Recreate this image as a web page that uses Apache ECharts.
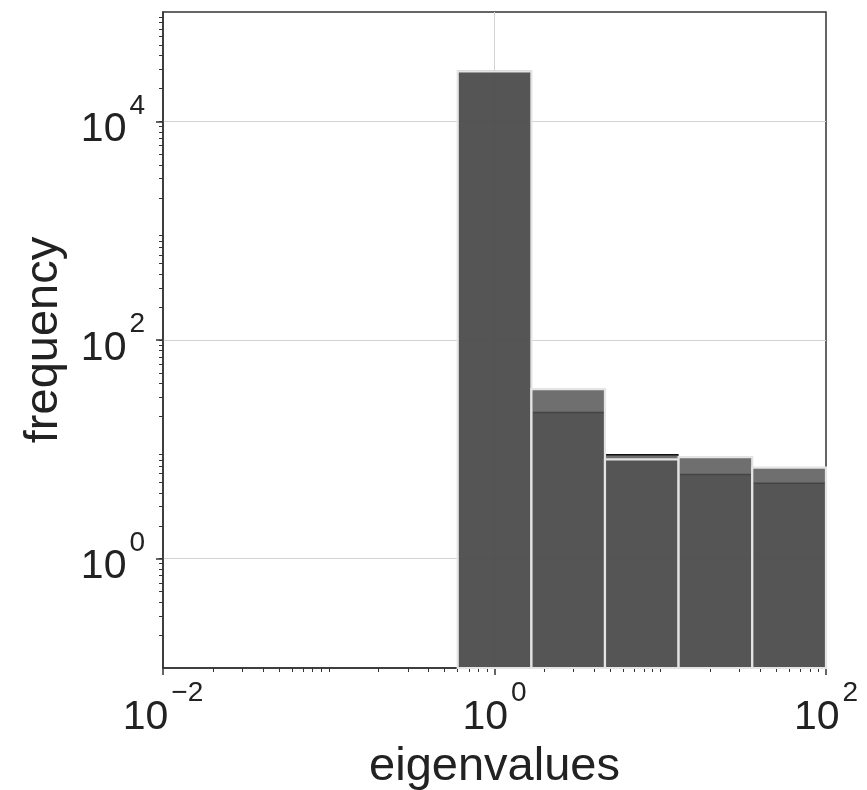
<!DOCTYPE html>
<html>
<head>
<meta charset="utf-8">
<script src="https://cdn.jsdelivr.net/npm/echarts@6/dist/echarts.min.js"></script>
<style>
  html, body { margin: 0; padding: 0; background: #fff; }
  #chart { width: 867px; height: 790px; }
</style>
</head>
<body>
<div id="chart"></div>
<script>
// histogram bin edges (log spaced eigenvalues)
const binEdges = [0.6, 1.67, 4.64, 12.9, 35.9, 100];
// two overlaid histograms
const countsA = [28600, 35.5, 8.1, 8.5, 6.8];
const countsB = [28600, 21.7, 8.9, 5.9, 4.9];

const xRange = [0.01, 100];
const yRange = [0.1, 100000];
const xMajorTicks = [0.01, 1, 100];
const yMajorTicks = [1, 100, 10000];
const gridValuesY = [1, 100, 10000];
const gridValuesX = [1];

const FONT = 'Liberation Sans, Arial, sans-serif';
const TXT = '#222';

function minorTicks(range) {
  let out = [];
  let lo = Math.round(Math.log10(range[0])), hi = Math.round(Math.log10(range[1]));
  for (let e = lo; e < hi; e++) {
    for (let m = 1; m <= 9; m++) {
      if (m === 1 && (e - lo) % 2 === 0) continue;
      out.push(+(m * Math.pow(10, e)).toPrecision(6));
    }
  }
  return out;
}

function powLabel(v) {
  let e = Math.round(Math.log10(v));
  let s = e < 0 ? '\u2212' + (-e) : '' + e;
  return '{b|10}{s|' + s + '}';
}
const labelRich = {
  b: { fontSize: 41, lineHeight: 41, fontFamily: FONT, color: TXT, padding: [17, 0, 0, 0] },
  s: { fontSize: 28, lineHeight: 28, fontFamily: FONT, color: TXT, padding: [0, 0, 31, 3] }
};

function toRows(counts) {
  let rows = [];
  for (let i = 0; i < counts.length; i++) {
    rows.push([binEdges[i], binEdges[i + 1], counts[i]]);
  }
  return rows;
}

function histRender(topLine) {
  return function (params, api) {
    let p0 = api.coord([api.value(0), api.value(2)]);
    let p1 = api.coord([api.value(1), yRange[0]]);
    let cs = params.coordSys;
    let shape = echarts.graphic.clipRectByRect(
      { x: p0[0], y: p0[1], width: p1[0] - p0[0], height: p1[1] - p0[1] },
      { x: cs.x, y: cs.y, width: cs.width, height: cs.height }
    );
    if (!shape) return;
    if (topLine) {
      return {
        type: 'group',
        children: [
          { type: 'rect', shape: shape, style: { fill: 'rgba(79,79,79,0.82)' } },
          { type: 'line', shape: { x1: shape.x, y1: shape.y, x2: shape.x + shape.width, y2: shape.y },
            style: { stroke: '#111', lineWidth: 1.5 } }
        ]
      };
    }
    return {
      type: 'rect',
      shape: shape,
      style: { fill: 'rgba(79,79,79,0.82)', stroke: '#e4e4e4', lineWidth: 2.2 }
    };
  };
}

const axisLineStyle = { color: '#333', width: 1.5 };

const chart = echarts.init(document.getElementById('chart'), null, { renderer: 'canvas' });
chart.setOption({
  animation: false,
  backgroundColor: '#fff',
  grid: {
    left: 163, right: 41, top: 12, bottom: 122,
    show: true, borderColor: '#333', borderWidth: 1.5,
    containLabel: false, outerBoundsMode: 'none'
  },
  xAxis: [
    {
      type: 'log', min: xRange[0], max: xRange[1], position: 'bottom',
      axisLine: { show: true, lineStyle: axisLineStyle },
      axisTick: { show: true, customValues: xMajorTicks, length: 7, lineStyle: axisLineStyle },
      axisLabel: { customValues: xMajorTicks, margin: 41, verticalAlign: 'middle', formatter: powLabel, rich: labelRich },
      splitLine: { show: false },
      name: 'eigenvalues', nameLocation: 'middle', nameGap: 73,
      nameTextStyle: { fontSize: 47, fontFamily: FONT, color: TXT }
    },
    {
      type: 'log', min: xRange[0], max: xRange[1], position: 'bottom',
      axisLine: { show: false },
      axisTick: { show: true, customValues: minorTicks(xRange), length: 4, lineStyle: { color: '#333', width: 1 } },
      axisLabel: { show: false },
      splitLine: { show: false }
    }
  ],
  yAxis: [
    {
      type: 'log', min: yRange[0], max: yRange[1], position: 'left',
      axisLine: { show: true, lineStyle: axisLineStyle },
      axisTick: { show: true, customValues: yMajorTicks, length: 7, lineStyle: axisLineStyle },
      axisLabel: { customValues: yMajorTicks, margin: 18, formatter: powLabel, rich: labelRich },
      splitLine: { show: false },
      name: 'frequency', nameLocation: 'middle', nameGap: 95, nameRotate: 90,
      nameTextStyle: { fontSize: 47, fontFamily: FONT, color: TXT }
    },
    {
      type: 'log', min: yRange[0], max: yRange[1], position: 'left',
      axisLine: { show: false },
      axisTick: { show: true, customValues: minorTicks(yRange), length: 4, lineStyle: { color: '#333', width: 1 } },
      axisLabel: { show: false },
      splitLine: { show: false }
    }
  ],
  series: [
    {
      type: 'line', data: [], xAxisIndex: 0, yAxisIndex: 0, z: 0,
      markLine: {
        silent: true, symbol: ['none', 'none'], z: 0, animation: false,
        label: { show: false },
        lineStyle: { color: '#d2d2d2', width: 1, type: 'solid' },
        data: gridValuesY.map(v => ({ yAxis: v })).concat(gridValuesX.map(v => ({ xAxis: v })))
      }
    },
    {
      type: 'custom', name: 'B', xAxisIndex: 0, yAxisIndex: 0, z: 2,
      renderItem: histRender(true), encode: { x: [0, 1], y: 2 },
      data: toRows(countsB)
    },
    {
      type: 'custom', name: 'A', xAxisIndex: 0, yAxisIndex: 0, z: 3,
      renderItem: histRender(false), encode: { x: [0, 1], y: 2 },
      data: toRows(countsA)
    }
  ]
});
</script>
</body>
</html>
